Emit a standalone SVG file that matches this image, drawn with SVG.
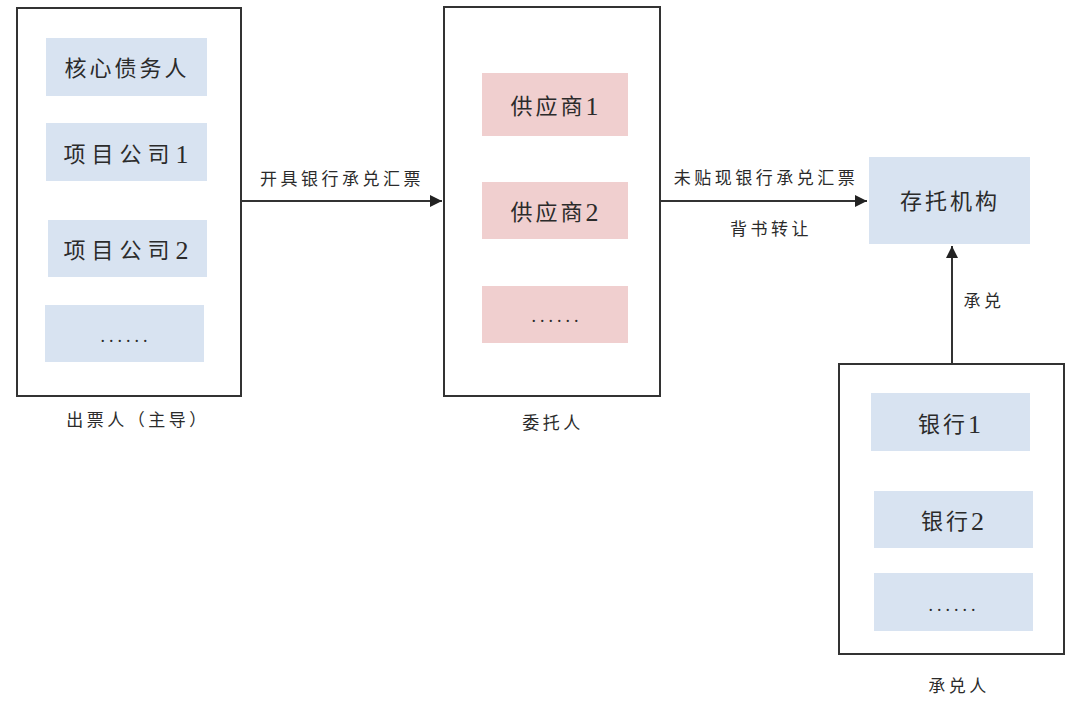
<svg xmlns="http://www.w3.org/2000/svg" width="1080" height="706" viewBox="0 0 1080 706">
<defs>
<style>
.cont{fill:#fff;stroke:#333;stroke-width:2}
.blue{fill:#d8e3f1}
.pink{fill:#f0cfcf}
text{font-family:"Liberation Serif","Noto Sans CJK SC",serif;fill:#2b2b2b;text-anchor:middle;dominant-baseline:central}
.t{font-size:22px;letter-spacing:3px}
.n{font-size:26px}
.lbl{font-size:17px;letter-spacing:3.5px}
.dots{font-size:18px;letter-spacing:4px}
.edge{stroke:#333;stroke-width:2;fill:none}
</style>
<marker id="ah" viewBox="0 0 10 10" refX="10" refY="5" markerWidth="6" markerHeight="6" orient="auto" markerUnits="strokeWidth">
<path d="M0,0 L10,5 L0,10 z" fill="#222"/>
</marker>
</defs>
<rect width="1080" height="706" fill="#fff"/>

<g id="drawer">
<rect class="cont" x="17" y="8" width="224" height="388"/>
<rect class="blue" x="46" y="38" width="161" height="58"/>
<text class="t" x="127" y="68">核心债务人</text>
<rect class="blue" x="46" y="123" width="161" height="58"/>
<text class="t" x="129" y="154" style="letter-spacing:6px">项目公司<tspan class="n">1</tspan></text>
<rect class="blue" x="48" y="220" width="159" height="57"/>
<text class="t" x="129" y="250" style="letter-spacing:6px">项目公司<tspan class="n">2</tspan></text>
<rect class="blue" x="45" y="305" width="159" height="57"/>
<text class="dots" x="126" y="336">......</text>
<text class="lbl" x="138" y="420">出票人（主导）</text>
</g>

<g id="principal">
<rect class="cont" x="444" y="7" width="216" height="389"/>
<rect class="pink" x="482" y="73" width="146" height="63"/>
<text class="t" x="556" y="106">供应商<tspan class="n">1</tspan></text>
<rect class="pink" x="482" y="182" width="146" height="57"/>
<text class="t" x="556" y="212">供应商<tspan class="n">2</tspan></text>
<rect class="pink" x="482" y="286" width="146" height="57"/>
<text class="dots" x="557" y="316">......</text>
<text class="lbl" x="553" y="423">委托人</text>
</g>

<g id="depository">
<rect class="blue" x="869" y="157" width="161" height="87"/>
<text class="t" x="950" y="201">存托机构</text>
</g>

<g id="acceptor">
<rect class="cont" x="839" y="364" width="225" height="290"/>
<rect class="blue" x="871" y="393" width="159" height="58"/>
<text class="t" x="951" y="424">银行<tspan class="n">1</tspan></text>
<rect class="blue" x="874" y="491" width="159" height="57"/>
<text class="t" x="954" y="521">银行<tspan class="n">2</tspan></text>
<rect class="blue" x="874" y="573" width="159" height="58"/>
<text class="dots" x="954" y="605">......</text>
<text class="lbl" x="959" y="686">承兑人</text>
</g>

<g id="connectors">
<line class="edge" x1="242" y1="201" x2="442" y2="201" marker-end="url(#ah)"/>
<text class="lbl" x="342" y="179">开具银行承兑汇票</text>
<line class="edge" x1="661" y1="201" x2="867" y2="201" marker-end="url(#ah)"/>
<text class="lbl" x="766" y="178">未贴现银行承兑汇票</text>
<text class="lbl" x="771" y="229">背书转让</text>
<line class="edge" x1="952" y1="363" x2="952" y2="246" marker-end="url(#ah)"/>
<text class="lbl" x="984" y="301">承兑</text>
</g>
</svg>
